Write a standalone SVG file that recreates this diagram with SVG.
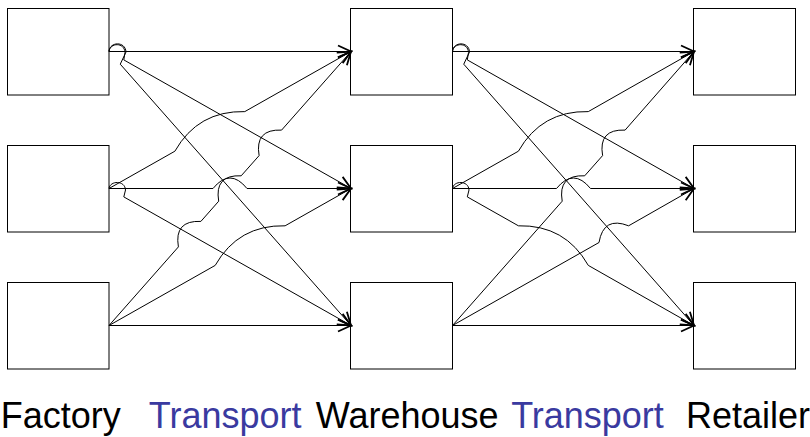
<svg xmlns="http://www.w3.org/2000/svg" width="810" height="437" viewBox="0 0 810 437">
<style>
.box{fill:#fff;stroke:#000;stroke-width:1}
.edge{fill:none;stroke:#000;stroke-width:1;marker-end:url(#arr)}
.lbl{font-family:"Liberation Sans",Arial,sans-serif;font-size:36px;fill:#000;text-anchor:middle}
.blue{fill:#3a3aa0}
</style>
<defs>
<marker id="arr" markerUnits="userSpaceOnUse" viewBox="-16 -9 18 18" refX="0" refY="0" markerWidth="18" markerHeight="18" orient="auto" overflow="visible">
<path d="M-13,-6 L0,0 L-13,6" fill="none" stroke="#000" stroke-width="1.8"/>
</marker>
</defs>
<rect width="810" height="437" fill="#fff"/>
<g id="factory1"><rect class="box" x="7.5" y="8.5" width="101.5" height="86.5"/></g>
<g id="factory2"><rect class="box" x="7.5" y="145.5" width="101.5" height="86.5"/></g>
<g id="factory3"><rect class="box" x="7.5" y="282.5" width="101.5" height="86.5"/></g>
<g id="warehouse1"><rect class="box" x="350.5" y="8.5" width="102" height="86.5"/></g>
<g id="warehouse2"><rect class="box" x="350.5" y="145.5" width="102" height="86.5"/></g>
<g id="warehouse3"><rect class="box" x="350.5" y="282.5" width="102" height="86.5"/></g>
<g id="retailer1"><rect class="box" x="693.5" y="8.5" width="102" height="86.5"/></g>
<g id="retailer2"><rect class="box" x="693.5" y="145.5" width="102" height="86.5"/></g>
<g id="retailer3"><rect class="box" x="693.5" y="282.5" width="102" height="86.5"/></g>
<g id="connectors">
<path class="edge" d="M109,51.5 L351,51.5"/>
<path class="edge" d="M109,51.5 C110,42.5 124.5,42 125,52.5 L123.8,59.9 L351,188.5"/>
<path class="edge" d="M109,51.5 C109.5,41.5 125.5,41 126,52 L120.25,64.2 L351,325.5"/>
<path class="edge" d="M109,188.5 L174.9,151.2 Q198,110.5 244.8,111.6 L351,51.5"/>
<path class="edge" d="M109,188.5 L213,188.5 Q230,167.5 247,188.5 L351,188.5"/>
<path class="edge" d="M109,188.5 C110,180.5 125,180 125.5,190 L123.8,196.9 L351,325.5"/>
<path class="edge" d="M109,325.5 L178.4,246.9 Q173.9,220.2 200.9,221.4 L218.7,201.2 Q214.2,174.6 241.2,175.8 L259.1,155.6 Q254.6,128.9 281.6,130.1 L351,51.5"/>
<path class="edge" d="M109,325.5 L215.2,265.4 Q238.3,224.7 285.1,225.8 L351,188.5"/>
<path class="edge" d="M109,325.5 L351,325.5"/>
<path class="edge" d="M452.5,51.5 L694,51.5"/>
<path class="edge" d="M452.5,51.5 C453.5,42.5 468,42 468.5,52.5 L467.3,59.9 L694,188.5"/>
<path class="edge" d="M452.5,51.5 C453,41.5 469,41 469.5,52 L463.75,64.2 L694,325.5"/>
<path class="edge" d="M452.5,188.5 L518.4,151.2 Q541.5,110.5 588.3,111.6 L694,51.5"/>
<path class="edge" d="M452.5,188.5 L556.5,188.5 Q573.5,167.5 590.5,188.5 L694,188.5"/>
<path class="edge" d="M452.5,188.5 C453.5,180.5 468.5,180 469,190 L467.3,196.9 L518.4,225.8 Q565.2,224.7 588.3,265.4 L694,325.5"/>
<path class="edge" d="M452.5,325.5 L562.2,201.2 Q557.7,174.6 584.7,175.8 L602.6,155.6 Q598.1,128.9 625.1,130.1 L694,51.5"/>
<path class="edge" d="M452.5,325.5 L599,242.5 Q603.5,215.9 628.6,225.8 L694,188.5"/>
<path class="edge" d="M452.5,325.5 L694,325.5"/>
</g>
<g id="labels">
<text class="lbl" x="60.7" y="428">Factory</text>
<text class="lbl blue" x="225.2" y="428">Transport</text>
<text class="lbl" x="407.2" y="428">Warehouse</text>
<text class="lbl blue" x="587.5" y="428">Transport</text>
<text class="lbl" x="748" y="428">Retailer</text>
</g>
</svg>
